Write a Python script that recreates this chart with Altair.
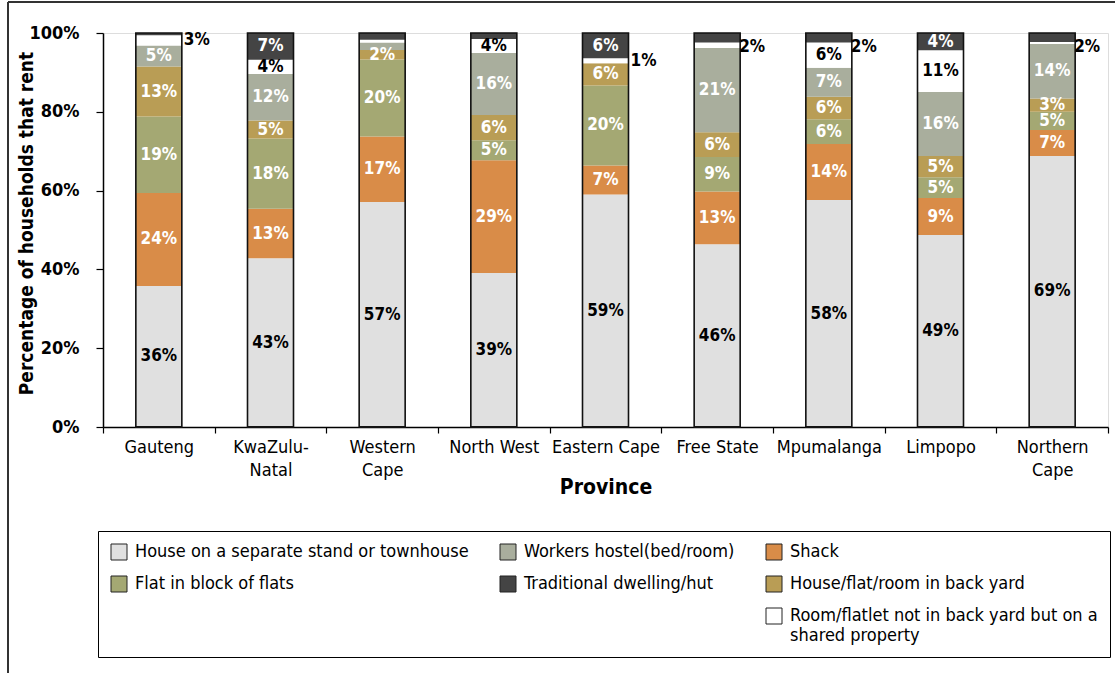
import altair as alt
import pandas as pd

provinces = ["Gauteng", "KwaZulu-Natal", "Western Cape", "North West", "Eastern Cape",
             "Free State", "Mpumalanga", "Limpopo", "Northern Cape"]
tick_labels = [["Gauteng"], ["KwaZulu-", "Natal"], ["Western", "Cape"], ["North West"],
               ["Eastern Cape"], ["Free State"], ["Mpumalanga"], ["Limpopo"], ["Northern", "Cape"]]

HOUSE = "House on a separate stand or townhouse"
SHACK = "Shack"
FLAT = "Flat in block of flats"
BACKYARD = "House/flat/room in back yard"
HOSTEL = "Workers hostel(bed/room)"
ROOM = "Room/flatlet not in back yard but on a shared property"
TRAD = "Traditional dwelling/hut"

# stacking order, bottom to top
categories = [HOUSE, SHACK, FLAT, BACKYARD, HOSTEL, ROOM, TRAD]

house    = [35.8, 42.8, 57.1, 39.1, 59.0, 46.4, 57.6, 48.7, 68.8]
shack    = [23.6, 12.6, 16.6, 28.6,  7.4, 13.4, 14.2,  9.4,  6.6]
flat     = [19.4, 17.8, 19.6,  5.1, 20.3,  8.7,  6.3,  5.3,  4.6]
backyard = [12.7,  4.6,  2.4,  6.4,  5.6,  6.3,  5.7,  5.4,  3.4]
hostel   = [ 5.3, 11.8,  1.9, 15.7,  0.0, 21.4,  7.4, 16.2, 13.8]
room     = [ 2.6,  3.6,  0.7,  3.6,  1.3,  1.4,  6.4, 10.6,  0.5]
trad     = [ 0.6,  6.8,  1.7,  1.5,  6.4,  2.4,  2.4,  4.4,  2.3]
series = [house, shack, flat, backyard, hostel, room, trad]

# labels drawn beside the bar rather than inside it
outside_labels = [("Gauteng", ROOM), ("Eastern Cape", ROOM), ("Free State", TRAD),
                  ("Mpumalanga", TRAD), ("Northern Cape", TRAD)]

# legend order (row by row, three columns; two blank slots)
legend_order = [HOUSE, HOSTEL, SHACK, FLAT, TRAD, BACKYARD, " ", "  ", ROOM]
fill_colors = {HOUSE: "#e0e0e0", HOSTEL: "#a9ae9d", SHACK: "#d98c48", FLAT: "#a4a873",
               TRAD: "#444444", BACKYARD: "#b99d55", " ": "transparent", "  ": "transparent",
               ROOM: "#ffffff"}
stroke_colors = {k: ("transparent" if k.strip() == "" else "#222222") for k in legend_order}

rows = []
for ci, (cat, vals) in enumerate(zip(categories, series)):
    for pi, p in enumerate(provinces):
        pos = "outside" if (p, cat) in outside_labels else ("inside" if vals[pi] >= 2 else "none")
        rows.append({"province": p, "category": cat, "value": vals[pi], "stack_idx": ci, "pos": pos})
df = pd.DataFrame(rows)

FONT = "DejaVu Sans Condensed, DejaVu Sans, sans-serif"
YTITLE = "Percentage of households that rent"

label_map = {p: t for p, t in zip(provinces, tick_labels)}
label_expr = "{" + ",".join(f"'{p}': {t}" for p, t in label_map.items()) + "}[datum.label]"

x_enc = alt.X("province:N", sort=provinces, title="Province",
              scale=alt.Scale(paddingInner=0.0, paddingOuter=0.0),
              axis=alt.Axis(labelAngle=0, tickBand="extent", labelExpr=label_expr,
                            labelFont=FONT, labelFontSize=18, labelColor="#000",
                            labelPadding=5, labelLineHeight=23,
                            titleFont=FONT, titleFontSize=21, titleFontWeight="bold",
                            titleColor="#000", titlePadding=-3,
                            domainColor="#000", domainWidth=1.5, tickColor="#000",
                            tickWidth=1.2, tickSize=6))
y_scale = alt.Scale(domain=[0, 100], nice=False)

base = alt.Chart(df)

segments = base.mark_bar(size=46).encode(
    x=x_enc,
    y=alt.Y("value:Q", title=YTITLE, scale=y_scale, stack="zero",
            axis=alt.Axis(values=[0, 20, 40, 60, 80, 100], labelExpr="datum.value + '%'",
                          grid=False, labelFont=FONT, labelFontSize=18, labelFontWeight="bold",
                          labelColor="#000", labelPadding=17, tickSize=7, tickColor="#000",
                          tickWidth=1.2, domainColor="#000", domainWidth=1.5,
                          titleFont=FONT, titleFontSize=19, titleFontWeight="bold",
                          titleColor="#000", titleX=-67, titleY=190)),
    fill=alt.Fill("category:N", scale=alt.Scale(domain=legend_order,
                                                range=[fill_colors[k] for k in legend_order]),
                  legend=alt.Legend(title=None, orient="none", legendX=-5, legendY=498,
                                    direction="horizontal",
                                    columns=3, columnPadding=29, rowPadding=12,
                                    symbolType="square", symbolSize=256, symbolStrokeWidth=1,
                                    labelFont=FONT, labelFontSize=18, labelColor="#000",
                                    labelLimit=500, labelOffset=7,
                                    labelExpr=f"datum.label == '{ROOM}' ? ['Room/flatlet not in back yard but on a', 'shared property'] : datum.label",
                                    strokeColor="#000", padding=12)),
    order=alt.Order("stack_idx:Q", sort="ascending"),
)

legend_helper = base.transform_calculate(zero="0").mark_bar(size=46, strokeWidth=1).encode(
    x=x_enc,
    y=alt.Y("zero:Q", title=YTITLE, scale=y_scale, stack=None),
    y2=alt.Y2("zero:Q"),
    fill=alt.Fill("category:N"),
    stroke=alt.Stroke("category:N", scale=alt.Scale(domain=legend_order,
                                                    range=[stroke_colors[k] for k in legend_order])),
)

outline = base.mark_bar(size=46, fillOpacity=0, stroke="#111", strokeWidth=1.6).encode(
    x=x_enc,
    y=alt.Y("sum(value):Q", title=YTITLE, scale=y_scale),
)

stacked = base.transform_stack(
    stack="value", groupby=["province"],
    sort=[alt.SortField("stack_idx", order="ascending")], as_=["y0", "y1"]
).transform_calculate(
    mid="(datum.y0 + datum.y1) / 2",
    lbl="format(datum.value, '.0f') + '%'",
)

dark_cond = f"datum.category == '{HOUSE}' || datum.category == '{ROOM}'"
inside = stacked.transform_filter("datum.pos == 'inside'").mark_text(
    font=FONT, fontSize=17, fontWeight="bold").encode(
    x=x_enc,
    y=alt.Y("mid:Q", title=YTITLE, scale=y_scale),
    text="lbl:N",
    color=alt.condition(dark_cond, alt.value("#000"), alt.value("#fff")),
)

outside_room = stacked.transform_filter(
    f"datum.pos == 'outside' && datum.category == '{ROOM}'").mark_text(
    font=FONT, fontSize=17, fontWeight="bold", align="left", dx=25, color="#000").encode(
    x=x_enc, y=alt.Y("mid:Q", title=YTITLE, scale=y_scale), text="lbl:N")

outside_trad = stacked.transform_filter(
    f"datum.pos == 'outside' && datum.category == '{TRAD}'").mark_text(
    font=FONT, fontSize=17, fontWeight="bold", align="left", dx=22, dy=9, color="#000").encode(
    x=x_enc, y=alt.Y("mid:Q", title=YTITLE, scale=y_scale), text="lbl:N")

frame_data = alt.Chart(pd.DataFrame({"a": [0]}))
frame_top = frame_data.mark_rule(color="#333", strokeWidth=2).encode(
    x=alt.value(-95), x2=alt.value(1012), y=alt.value(-31))
frame_left = frame_data.mark_rule(color="#333", strokeWidth=2).encode(
    x=alt.value(-95), y=alt.value(-31), y2=alt.value(640))

chart = alt.layer(
    segments, legend_helper, outline, inside, outside_room, outside_trad, frame_top, frame_left
).properties(
    width=1005, height=394,
    autosize=alt.AutoSizeParams(type="none"),
    padding={"left": 103, "top": 33, "right": 7, "bottom": 246},
).configure_view(stroke=None).configure(background="white")

chart.save("out.html", embed_options={"renderer": "svg", "actions": False})
